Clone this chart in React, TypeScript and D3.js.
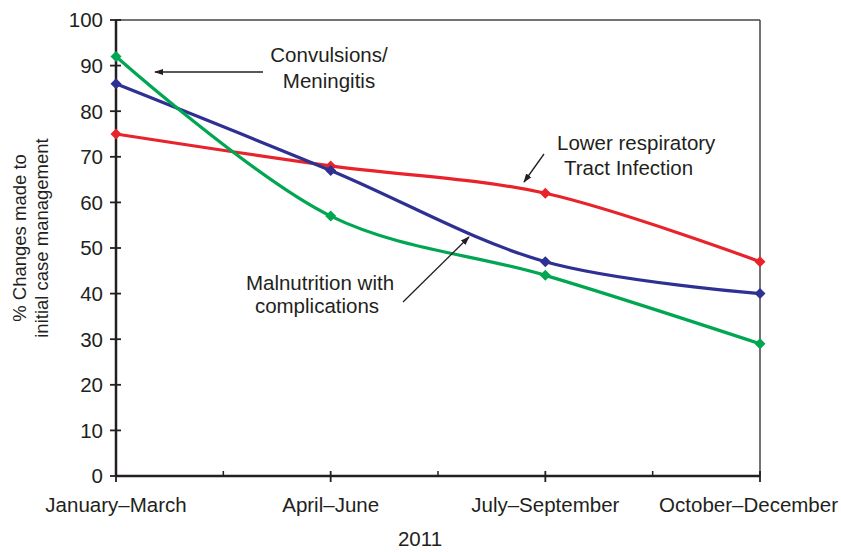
import React from "react";
import * as d3 from "d3";

const categories = ["January–March", "April–June", "July–September", "October–December"];
const yTicks = [0, 10, 20, 30, 40, 50, 60, 70, 80, 90, 100];
const lowerRespiratory = [75, 68, 62, 47];
const malnutrition = [86, 67, 47, 40];
const convulsions = [92, 57, 44, 29];

const series = [
  { name: "Lower respiratory Tract Infection", values: lowerRespiratory, color: "#e8232b" },
  { name: "Malnutrition with complications", values: malnutrition, color: "#2e3192" },
  { name: "Convulsions/Meningitis", values: convulsions, color: "#00a651" },
];

const W = 841, H = 552;
const L = 116, R = 760, T = 20, B = 476;
const textColor = "#231f20";
const font = "'Liberation Sans', Arial, sans-serif";
const FS = 20.5;

export default function App() {
  const x = d3.scalePoint<string>().domain(categories).range([L, R]);
  const y = d3.scaleLinear().domain([0, 100]).range([B, T]);
  const line = d3
    .line<number>()
    .x((_, i) => x(categories[i]) as number)
    .y((d) => y(d))
    .curve(d3.curveCatmullRom.alpha(0.5));
  const step = x.step();
  const minorX = categories.slice(0, -1).map((c) => (x(c) as number) + step / 2);
  const diamond = (cx: number, cy: number, r = 5.5) =>
    `M${cx},${cy - r}L${cx + r},${cy}L${cx},${cy + r}L${cx - r},${cy}Z`;

  return (
    <svg width={W} height={H} style={{ position: "absolute", left: 0, top: 0, background: "#fff" }} fontFamily={font}>
      <defs>
        <marker id="ah" viewBox="0 0 10 10" refX="9" refY="5" markerWidth="7" markerHeight="7" orient="auto-start-reverse">
          <path d="M0,1.5L10,5L0,8.5Z" fill="#231f20" />
        </marker>
      </defs>
      {/* frame */}
      <line x1={L} x2={R} y1={T} y2={T} stroke="#444" strokeWidth={1.5} />
      <line x1={R} x2={R} y1={T} y2={B} stroke="#444" strokeWidth={1.5} />
      {/* y axis */}
      <line x1={L} x2={L} y1={T} y2={B} stroke="#231f20" strokeWidth={2.5} />
      {yTicks.map((t) => (
        <g key={t}>
          <line x1={L - 6} x2={L + 5} y1={y(t)} y2={y(t)} stroke="#231f20" strokeWidth={1.8} />
          <text x={L - 13} y={y(t)} dy="0.36em" textAnchor="end" fontSize={FS} fill={textColor}>
            {t}
          </text>
        </g>
      ))}
      {/* x axis */}
      <line x1={L} x2={R} y1={B} y2={B} stroke="#231f20" strokeWidth={2.5} />
      {categories.map((c, i) => {
        const last = i === categories.length - 1;
        return (
          <g key={c}>
            <line x1={x(c)} x2={x(c)} y1={B - 5} y2={B + 6} stroke="#231f20" strokeWidth={1.8} />
            <text
              x={last ? W - 3 : x(c)}
              y={512}
              textAnchor={last ? "end" : "middle"}
              fontSize={FS}
              fill={textColor}
            >
              {c}
            </text>
          </g>
        );
      })}
      {minorX.map((mx, i) => (
        <line key={i} x1={mx} x2={mx} y1={B - 5} y2={B} stroke="#231f20" strokeWidth={1.5} />
      ))}
      <text x={420} y={546} textAnchor="middle" fontSize={FS} fill={textColor}>2011</text>
      {/* y label */}
      <g transform="translate(26,238) rotate(-90)">
        <text x={0} y={0} textAnchor="middle" fontSize={18.5} fill={textColor}>% Changes made to</text>
        <text x={0} y={22} textAnchor="middle" fontSize={18.5} fill={textColor}>initial case management</text>
      </g>
      {/* series */}
      {series.map((s) => (
        <g key={s.name}>
          <path d={line(s.values) || ""} fill="none" stroke={s.color} strokeWidth={3.2} />
          {s.values.map((v, i) => (
            <path key={i} d={diamond(x(categories[i]) as number, y(v))} fill={s.color} />
          ))}
        </g>
      ))}
      {/* annotations */}
      <text x={329} y={62} textAnchor="middle" fontSize={FS} fill={textColor}>Convulsions/</text>
      <text x={329} y={88} textAnchor="middle" fontSize={FS} fill={textColor}>Meningitis</text>
      <line x1={263} x2={155} y1={72} y2={72} stroke="#231f20" strokeWidth={1.3} markerEnd="url(#ah)" />

      <text x={557} y={150} fontSize={FS} fill={textColor}>Lower respiratory</text>
      <text x={564} y={175} fontSize={FS} fill={textColor}>Tract Infection</text>
      <line x1={544} x2={524} y1={154} y2={182} stroke="#231f20" strokeWidth={1.3} markerEnd="url(#ah)" />

      <text x={320} y={290} textAnchor="middle" fontSize={FS} fill={textColor}>Malnutrition with</text>
      <text x={317} y={313} textAnchor="middle" fontSize={FS} fill={textColor}>complications</text>
      <line x1={403} x2={469} y1={302} y2={237} stroke="#231f20" strokeWidth={1.3} markerEnd="url(#ah)" />
    </svg>
  );
}
